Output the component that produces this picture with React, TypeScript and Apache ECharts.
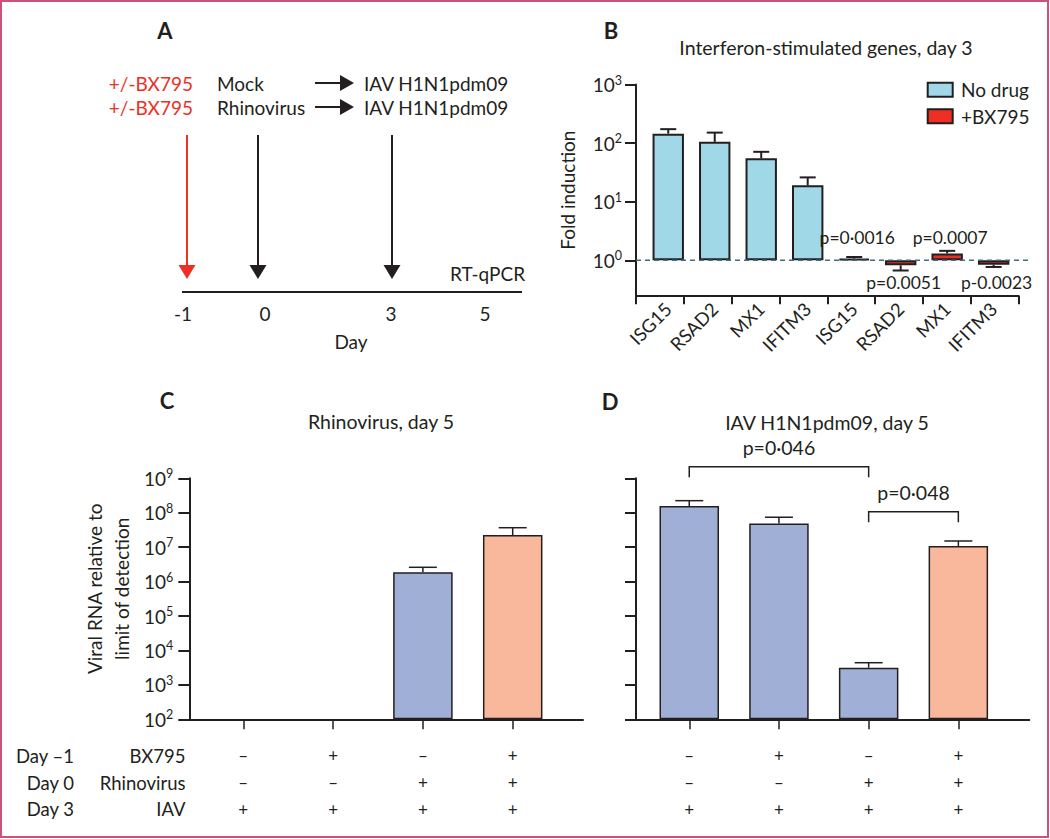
import React, { useEffect, useRef } from 'react';
import * as echarts from 'echarts';

const FONT = 'Lato, "Noto Sans", sans-serif';
const INK = '#231f20';
const RED = '#ee2f24';
const BLUE_B = '#a0d8e8';
const LAVENDER = '#a0afd6';
const SALMON = '#f9b79b';

// ---------- Panel B: interferon-stimulated genes, day 3 ----------
const geneCategories = ['ISG15', 'RSAD2', 'MX1', 'IFITM3', 'ISG15', 'RSAD2', 'MX1', 'IFITM3'];
const noDrugValues = [145, 105, 55, 19, null, null, null, null];
const noDrugErrors = [173, 151, 71, 26, null, null, null, null];
const bx795Values = [null, null, null, null, 1.07, 0.82, 1.31, 0.84];
const bx795Errors = [null, null, null, null, 1.14, 0.67, 1.45, 0.77];
const bx795PLabels = ['', '', '', '', 'p=0·0016', 'p=0.0051', 'p=0.0007', 'p-0.0023'];
const foldTicks = [1, 10, 100, 1000];

// ---------- Panels C and D: viral RNA, day 5 ----------
const conditions = ['Mock', 'BX795', 'Rhinovirus', 'Rhinovirus + BX795'];
const conditionColors = [LAVENDER, LAVENDER, LAVENDER, SALMON];
const rhinoValues = [null, null, 1.86e6, 2.25e7];
const rhinoErrors = [null, null, 2.6e6, 3.67e7];
const iavValues = [1.57e8, 4.9e7, 3.15e3, 1.08e7];
const iavErrors = [2.24e8, 7.4e7, 4.4e3, 1.51e7];
const viralTicks = [1e2, 1e3, 1e4, 1e5, 1e6, 1e7, 1e8, 1e9];
const rowBX795 = ['–', '+', '–', '+'];
const rowRhino = ['–', '–', '+', '+'];
const rowIAV = ['+', '+', '+', '+'];
const bracketFrom = [0, 2];
const bracketTo = [2, 3];
const bracketLevel = [2.17e9, 1.07e8];
const bracketLabels = ['p=0·046', 'p=0·048'];

const txt = (text: string, x: number, y: number, opts: any = {}) => ({
  type: 'text',
  x,
  y,
  style: {
    text,
    fill: opts.fill || INK,
    fontSize: opts.fontSize || 19,
    fontFamily: FONT,
    fontWeight: opts.fontWeight || 'normal',
    align: opts.align || 'left',
    textAlign: opts.align || 'left',
    verticalAlign: 'middle',
    textVerticalAlign: 'middle',
  },
});

const powLabel = (v: number) => {
  const e = Math.round(Math.log10(v));
  return `{b|10}{s|${e}}`;
};
const powRich = {
  b: { fontSize: 19, fontFamily: FONT, color: INK },
  s: { fontSize: 12.5, fontFamily: FONT, color: INK, padding: [0, 0, 9, 0] },
};

const errorRender = (cap: number, lw: number) => (params: any, api: any) => {
  const i = api.value(0);
  const v = api.value(1);
  const e = api.value(2);
  const p0 = api.coord([i, v]);
  const p1 = api.coord([i, e]);
  return {
    type: 'group',
    children: [
      { type: 'line', shape: { x1: p0[0], y1: p0[1], x2: p1[0], y2: p1[1] }, style: { stroke: INK, lineWidth: lw } },
      { type: 'line', shape: { x1: p1[0] - cap / 2, y1: p1[1], x2: p1[0] + cap / 2, y2: p1[1] }, style: { stroke: INK, lineWidth: lw } },
    ],
  };
};

const errData = (vals: (number | null)[], errs: (number | null)[]) =>
  vals.map((v, i) => (v == null ? null : [i, v, errs[i] as number])).filter((d) => d) as number[][];

export default function App() {
  const ref = useRef<HTMLDivElement>(null);
  useEffect(() => {
    if (!ref.current) return;
    const chart = echarts.init(ref.current, undefined, { renderer: 'svg' });

    const pItems = bx795PLabels
      .map((t, i) => (t ? [i, (bx795Values[i] as number) >= 1 ? 1 : -1] : null))
      .filter((d) => d) as number[][];
    const pTexts = bx795PLabels.filter((t) => t);

    const hidden = { show: false };
    const baseFrameX = (gridIndex: number) => ({
      type: 'value', gridIndex, min: 0, max: 8, interval: 1,
      axisLine: { show: true, onZero: false, lineStyle: { color: INK, width: 2 } },
      axisTick: { show: false }, axisLabel: { show: false }, splitLine: { show: false },
    });
    const signAxis = (gridIndex: number) => ({
      type: 'category', gridIndex, data: conditions,
      axisLine: { show: false },
      axisTick: { show: true, alignWithLabel: true, length: 10, lineStyle: { color: INK, width: 1.5 } },
      axisLabel: {
        interval: 0, margin: 23, fontSize: 17, lineHeight: 26.7, fontFamily: FONT, color: INK,
        formatter: (_v: string, i: number) => `${rowBX795[i]}\n${rowRhino[i]}\n${rowIAV[i]}`,
      },
    });

    const option: any = {
      animation: false,
      backgroundColor: '#ffffff',
      textStyle: { fontFamily: FONT, color: INK },
      grid: [
        { left: 636, top: 84.5, width: 382.6, height: 211.3, outerBoundsMode: 'none' },
        { left: 645, top: 84.5, width: 371.9, height: 211.3, outerBoundsMode: 'none' },
        { left: 189.3, top: 478.3, width: 393.7, height: 241, outerBoundsMode: 'none' },
        { left: 198.4, top: 478.3, width: 359.2, height: 241, outerBoundsMode: 'none' },
        { left: 636, top: 478.3, width: 393.3, height: 241, outerBoundsMode: 'none' },
        { left: 644.4, top: 478.3, width: 358.8, height: 241, outerBoundsMode: 'none' },
      ],
      xAxis: [
        {
          ...baseFrameX(0),
          axisTick: { show: true, length: 8.5, lineStyle: { color: INK, width: 2 } },
        },
        {
          type: 'category', gridIndex: 1, data: geneCategories,
          axisLine: hidden, axisTick: hidden, splitLine: hidden,
          axisLabel: { rotate: 45, interval: 0, margin: 10, fontSize: 18.5, fontFamily: FONT, color: INK },
        },
        { ...baseFrameX(2) },
        signAxis(3),
        { ...baseFrameX(4) },
        signAxis(5),
      ],
      yAxis: [
        {
          type: 'log', logBase: 10, gridIndex: 0, min: 0.248, max: 1000,
          axisLine: { show: true, onZero: false, lineStyle: { color: INK, width: 2 } },
          axisTick: { show: true, length: 11, customValues: foldTicks, lineStyle: { color: INK, width: 2 } },
          axisLabel: { show: true, margin: 14, customValues: foldTicks, formatter: powLabel, rich: powRich },
          splitLine: hidden,
          name: 'Fold induction', nameLocation: 'middle', nameGap: 59,
          nameTextStyle: { fontSize: 19, fontFamily: FONT, color: INK },
        },
        { type: 'log', logBase: 10, gridIndex: 1, min: 0.248, max: 1000, startValue: 1, show: false },
        {
          type: 'log', logBase: 10, gridIndex: 2, min: 100, max: 1e9,
          axisLine: { show: true, onZero: false, lineStyle: { color: INK, width: 2 } },
          axisTick: { show: true, length: 11, customValues: viralTicks, lineStyle: { color: INK, width: 2 } },
          axisLabel: { show: true, margin: 16, customValues: viralTicks, formatter: powLabel, rich: powRich },
          splitLine: hidden,
          name: 'Viral RNA relative to\nlimit of detection', nameLocation: 'middle', nameGap: 54,
          nameTextStyle: { fontSize: 19, lineHeight: 27, fontFamily: FONT, color: INK, padding: [0, 0, 0, 20] },
        },
        { type: 'log', logBase: 10, gridIndex: 3, min: 100, max: 1e9, startValue: 100, show: false },
        {
          type: 'log', logBase: 10, gridIndex: 4, min: 100, max: 1e9,
          axisLine: { show: true, onZero: false, lineStyle: { color: INK, width: 2 } },
          axisTick: { show: true, length: 11, customValues: viralTicks, lineStyle: { color: INK, width: 2 } },
          axisLabel: { show: false },
          splitLine: hidden,
        },
        { type: 'log', logBase: 10, gridIndex: 5, min: 100, max: 1e9, startValue: 100, show: false },
      ],
      legend: {
        data: ['No drug', '+BX795'],
        orient: 'vertical', left: 926.7, top: 80.2, padding: 0, itemWidth: 25, itemHeight: 14, itemGap: 7.6,
        icon: 'rect',
        textStyle: { fontSize: 19, fontFamily: FONT, color: INK, padding: [0, 0, 0, 3.3] },
      },
      series: [
        // Panel B
        {
          name: 'No drug', type: 'bar', xAxisIndex: 1, yAxisIndex: 1, data: noDrugValues,
          barWidth: 31.4, barGap: '-100%',
          itemStyle: { color: BLUE_B, borderColor: INK, borderWidth: 2 },
        },
        {
          name: '+BX795', type: 'bar', xAxisIndex: 1, yAxisIndex: 1, data: bx795Values,
          barWidth: 31.4, barGap: '-100%',
          itemStyle: { color: RED, borderColor: INK, borderWidth: 2 },
        },
        {
          type: 'custom', xAxisIndex: 1, yAxisIndex: 1, clip: false,
          data: errData(noDrugValues, noDrugErrors).concat(errData(bx795Values, bx795Errors)),
          renderItem: errorRender(16, 2), z: 3,
        },
        {
          type: 'custom', xAxisIndex: 0, yAxisIndex: 0, clip: false, data: [[0, 1]], z: 4,
          renderItem: (params: any, api: any) => {
            const p = api.coord([0, 1]);
            const cs = params.coordSys;
            return {
              type: 'line',
              shape: { x1: cs.x, y1: p[1], x2: cs.x + cs.width + 10, y2: p[1] },
              style: { stroke: '#3d6f7c', lineWidth: 1.5, lineDash: [5, 4] },
            };
          },
        },
        {
          type: 'custom', xAxisIndex: 1, yAxisIndex: 1, clip: false, data: pItems, z: 5,
          renderItem: (params: any, api: any) => {
            const base = api.coord([api.value(0), 1]);
            const up = api.value(1) > 0;
            return {
              type: 'text', x: base[0] + 3, y: up ? base[1] - 23 : base[1] + 22,
              style: {
                text: pTexts[params.dataIndex], fill: INK, fontSize: 17.5, fontFamily: FONT,
                align: 'center', verticalAlign: 'middle', textAlign: 'center', textVerticalAlign: 'middle',
              },
            };
          },
        },
        // Panel C
        {
          name: 'Rhinovirus RNA', type: 'bar', xAxisIndex: 3, yAxisIndex: 3, data: rhinoValues, barWidth: 59.5,
          itemStyle: { color: (p: any) => conditionColors[p.dataIndex], borderColor: INK, borderWidth: 1.5 },
        },
        {
          type: 'custom', xAxisIndex: 3, yAxisIndex: 3, clip: false,
          data: errData(rhinoValues, rhinoErrors), renderItem: errorRender(28, 1.5), z: 3,
        },
        // Panel D
        {
          name: 'IAV RNA', type: 'bar', xAxisIndex: 5, yAxisIndex: 5, data: iavValues, barWidth: 59.5,
          itemStyle: { color: (p: any) => conditionColors[p.dataIndex], borderColor: INK, borderWidth: 1.5 },
        },
        {
          type: 'custom', xAxisIndex: 5, yAxisIndex: 5, clip: false,
          data: errData(iavValues, iavErrors), renderItem: errorRender(28, 1.5), z: 3,
        },
        {
          type: 'custom', xAxisIndex: 5, yAxisIndex: 5, clip: false, z: 3,
          data: bracketFrom.map((f, i) => [f, bracketLevel[i], bracketTo[i]]),
          renderItem: (params: any, api: any) => {
            const a = api.coord([api.value(0), api.value(1)]);
            const b = api.coord([api.value(2), api.value(1)]);
            const leg = 10.5;
            return {
              type: 'group',
              children: [
                {
                  type: 'polyline',
                  shape: { points: [[a[0], a[1] + leg], [a[0], a[1]], [b[0], b[1]], [b[0], b[1] + leg]] },
                  style: { stroke: INK, lineWidth: 1.5, fill: null },
                },
                {
                  type: 'text', x: (a[0] + b[0]) / 2, y: a[1] - 19,
                  style: {
                    text: bracketLabels[params.dataIndex], fill: INK, fontSize: 19.5, fontFamily: FONT,
                    align: 'center', verticalAlign: 'middle', textAlign: 'center', textVerticalAlign: 'middle',
                  },
                },
              ],
            };
          },
        },
      ],
      graphic: [
        {
          type: 'rect', shape: { x: 1, y: 1, width: 1047, height: 836 },
          style: { fill: 'none', stroke: '#d0507c', lineWidth: 2 }, silent: true,
        },
        // panel letters & titles
        txt('A', 165, 30, { fontSize: 22, fontWeight: 'bold', align: 'center' }),
        txt('B', 611, 30.5, { fontSize: 22, fontWeight: 'bold', align: 'center' }),
        txt('C', 167, 400, { fontSize: 22, fontWeight: 'bold', align: 'center' }),
        txt('D', 610, 401, { fontSize: 22, fontWeight: 'bold', align: 'center' }),
        txt('Interferon-stimulated genes, day 3', 826, 47.5, { align: 'center', fontSize: 19.5 }),
        txt('Rhinovirus, day 5', 381, 421, { align: 'center', fontSize: 19.5 }),
        txt('IAV H1N1pdm09, day 5', 827, 422, { align: 'center', fontSize: 19.5 }),
        // Panel A schematic
        txt('+/-BX795', 193, 83, { fill: RED, align: 'right' }),
        txt('+/-BX795', 193, 107, { fill: RED, align: 'right' }),
        txt('Mock', 217, 83),
        txt('Rhinovirus', 217, 107),
        txt('IAV H1N1pdm09', 364, 83),
        txt('IAV H1N1pdm09', 364, 107),
        ...[83, 107].flatMap((y) => [
          { type: 'line', shape: { x1: 315, y1: y, x2: 342, y2: y }, style: { stroke: INK, lineWidth: 2 } },
          { type: 'polygon', shape: { points: [[340, y - 8], [354, y], [340, y + 8]] }, style: { fill: INK } },
        ]),
        ...[
          [187, RED],
          [258, INK],
          [392, INK],
        ].flatMap(([x, c]: any) => [
          { type: 'line', shape: { x1: x, y1: 135, x2: x, y2: 266 }, style: { stroke: c, lineWidth: 2 } },
          { type: 'polygon', shape: { points: [[x - 8.5, 265], [x + 8.5, 265], [x, 279]] }, style: { fill: c } },
        ]),
        txt('RT-qPCR', 450, 273),
        { type: 'line', shape: { x1: 182, y1: 292, x2: 522, y2: 292 }, style: { stroke: INK, lineWidth: 2 } },
        txt('-1', 183, 313, { align: 'center' }),
        txt('0', 265, 313, { align: 'center' }),
        txt('3', 391, 313, { align: 'center' }),
        txt('5', 485, 313, { align: 'center' }),
        txt('Day', 351, 341, { align: 'center' }),
        // Table row labels
        txt('Day –1', 74, 756, { align: 'right', fontSize: 18.5 }),
        txt('Day 0', 74, 782.5, { align: 'right', fontSize: 18.5 }),
        txt('Day 3', 74, 809, { align: 'right', fontSize: 18.5 }),
        txt('BX795', 185.5, 756, { align: 'right', fontSize: 18.5 }),
        txt('Rhinovirus', 185.5, 782.5, { align: 'right', fontSize: 18.5 }),
        txt('IAV', 185.5, 809, { align: 'right', fontSize: 18.5 }),
      ],
    };

    chart.setOption(option);
    return () => chart.dispose();
  }, []);

  return (
    <div
      ref={ref}
      style={{ position: 'absolute', left: 0, top: 0, width: 1050, height: 839, background: '#fff' }}
    />
  );
}
